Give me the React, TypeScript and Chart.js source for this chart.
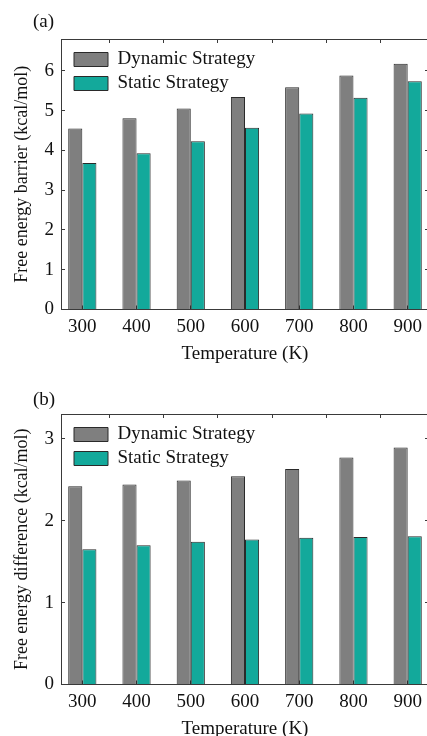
import React, { useEffect, useRef } from "react";
import { Chart, registerables } from "chart.js";

Chart.register(...registerables);

// ---------- data ----------
const temperatures = ["300", "400", "500", "600", "700", "800", "900"];
const seriesNames = ["Dynamic Strategy", "Static Strategy"];

const barrierDynamic = [4.55, 4.81, 5.05, 5.34, 5.59, 5.88, 6.18];
const barrierStatic = [3.68, 3.93, 4.23, 4.57, 4.93, 5.32, 5.74];
const barrierTicks = [0, 1, 2, 3, 4, 5, 6];
const barrierMax = 6.8;

const diffDynamic = [2.42, 2.44, 2.49, 2.54, 2.63, 2.77, 2.89];
const diffStatic = [1.65, 1.70, 1.74, 1.77, 1.79, 1.80, 1.81];
const diffTicks = [0, 1, 2, 3];
const diffMax = 3.3;

// ---------- styles ----------
const FONT = '"Liberation Serif", "Times New Roman", serif';
const DYN_COLOR = "#7f7f7f";
const STA_COLOR = "#13a99b";
const EDGE = "#2a2a2a";
const AXIS = "#3a3a3a";
const TEXT = "#111";

const CW = 440;
const CH = 368;
const PLOT_LEFT = 61;
const PLOT_TOP = 39;
const PLOT_BOTTOM = 309.5;
const XMIN = 0.607;
const XMAX = 7.393;

function catTicks(scale: any) {
  scale.ticks = temperatures.map((_, i) => ({ value: i + 1 }));
}

function buildConfig(
  yTitle: string,
  dyn: number[],
  sta: number[],
  yTicks: number[],
  yMax: number,
  label: string,
  labelY: number
): any {
  const panelLabel = {
    id: "panelLabel",
    afterDraw(chart: any) {
      const ctx = chart.ctx;
      ctx.save();
      ctx.font = `19px ${FONT}`;
      ctx.fillStyle = TEXT;
      ctx.textAlign = "left";
      ctx.textBaseline = "middle";
      ctx.fillText(label, 33, labelY);
      ctx.restore();
    },
  };
  const legendShift = {
    id: "legendShift",
    afterLayout(chart: any) {
      const l = chart.legend;
      if (l) {
        const h = l.height;
        l.left = chart.chartArea.left + 8;
        l.top = chart.chartArea.top + 6;
        l.bottom = l.top + h;
      }
    },
  };
  const yTickValues = (scale: any) => {
    scale.ticks = yTicks.map((v) => ({ value: v }));
  };
  return {
    type: "bar",
    data: {
      datasets: [
        {
          label: seriesNames[0],
          data: temperatures.map((_, i) => ({ x: i + 1, y: dyn[i] })),
          backgroundColor: DYN_COLOR,
          borderColor: EDGE,
          borderWidth: 1,
          categoryPercentage: 0.52,
          barPercentage: 1.0,
        },
        {
          label: seriesNames[1],
          data: temperatures.map((_, i) => ({ x: i + 1, y: sta[i] })),
          backgroundColor: STA_COLOR,
          borderColor: EDGE,
          borderWidth: 1,
          categoryPercentage: 0.52,
          barPercentage: 1.0,
        },
      ],
    },
    options: {
      responsive: false,
      animation: false,
      events: [],
      layout: { padding: { top: PLOT_TOP, left: 0, right: CW - 429, bottom: 0 } },
      plugins: {
        tooltip: { enabled: false },
        title: { display: false },
        legend: {
          display: true,
          position: "chartArea",
          align: "start",
          labels: {
            font: { family: FONT, size: 19 },
            color: TEXT,
            boxWidth: 34,
            boxHeight: 14,
            padding: 5,
          },
        },
      },
      scales: {
        x: {
          type: "linear",
          position: "bottom",
          min: XMIN,
          max: XMAX,
          offset: false,
          afterBuildTicks: catTicks,
          afterFit: (s: any) => {
            s.height = CH - PLOT_BOTTOM;
          },
          grid: {
            display: true,
            offset: false,
            drawOnChartArea: false,
            drawTicks: true,
            tickLength: -4,
            color: AXIS,
          },
          border: { display: true, color: AXIS, width: 1 },
          ticks: {
            autoSkip: false,
            maxRotation: 0,
            padding: 10,
            color: TEXT,
            font: { family: FONT, size: 19 },
            callback: (v: any) => temperatures[Math.round(v) - 1] ?? "",
          },
          title: {
            display: true,
            text: "Temperature (K)",
            color: TEXT,
            font: { family: FONT, size: 19 },
            padding: { top: 0, bottom: 3 },
          },
        },
        x2: {
          type: "linear",
          axis: "x",
          position: "top",
          min: XMIN,
          max: XMAX,
          offset: false,
          afterBuildTicks: catTicks,
          afterFit: (s: any) => {
            s.height = 0;
          },
          grid: {
            display: true,
            drawOnChartArea: false,
            drawTicks: true,
            tickLength: -4,
            color: AXIS,
          },
          border: { display: true, color: AXIS, width: 1 },
          ticks: { display: false },
        },
        y: {
          type: "linear",
          position: "left",
          min: 0,
          max: yMax,
          afterBuildTicks: yTickValues,
          afterFit: (s: any) => {
            s.width = PLOT_LEFT;
          },
          grid: {
            display: true,
            drawOnChartArea: false,
            drawTicks: true,
            tickLength: -4,
            color: AXIS,
          },
          border: { display: true, color: AXIS, width: 1 },
          ticks: {
            padding: 11,
            color: TEXT,
            font: { family: FONT, size: 19 },
          },
          title: {
            display: true,
            text: yTitle,
            color: TEXT,
            font: { family: FONT, size: 18 },
            padding: { top: 11, bottom: 0 },
          },
        },
        y2: {
          type: "linear",
          axis: "y",
          position: "right",
          min: 0,
          max: yMax,
          afterBuildTicks: yTickValues,
          afterFit: (s: any) => {
            s.width = 0;
          },
          grid: {
            display: true,
            drawOnChartArea: false,
            drawTicks: true,
            tickLength: -4,
            color: AXIS,
          },
          border: { display: true, color: AXIS, width: 1 },
          ticks: { display: false },
        },
      },
    },
    plugins: [panelLabel, legendShift],
  };
}

function Panel(props: {
  top: number;
  label: string;
  labelY: number;
  yTitle: string;
  dyn: number[];
  sta: number[];
  yTicks: number[];
  yMax: number;
}) {
  const ref = useRef<HTMLCanvasElement | null>(null);
  useEffect(() => {
    if (!ref.current) return;
    const chart = new Chart(
      ref.current,
      buildConfig(props.yTitle, props.dyn, props.sta, props.yTicks, props.yMax, props.label, props.labelY)
    );
    return () => chart.destroy();
  }, []);
  return (
    <canvas
      ref={ref}
      width={CW}
      height={CH}
      style={{ position: "absolute", left: 0, top: props.top, width: CW, height: CH }}
    />
  );
}

export default function App() {
  useEffect(() => {
    document.body.style.margin = "0";
  }, []);
  return (
    <div
      style={{
        position: "relative",
        width: 427,
        height: 736,
        overflow: "hidden",
        background: "#fff",
      }}
    >
      <Panel
        top={0}
        label="(a)"
        labelY={22.5}
        yTitle="Free energy barrier (kcal/mol)"
        dyn={barrierDynamic}
        sta={barrierStatic}
        yTicks={barrierTicks}
        yMax={barrierMax}
      />
      <Panel
        top={375}
        label="(b)"
        labelY={25}
        yTitle="Free energy difference (kcal/mol)"
        dyn={diffDynamic}
        sta={diffStatic}
        yTicks={diffTicks}
        yMax={diffMax}
      />
    </div>
  );
}
